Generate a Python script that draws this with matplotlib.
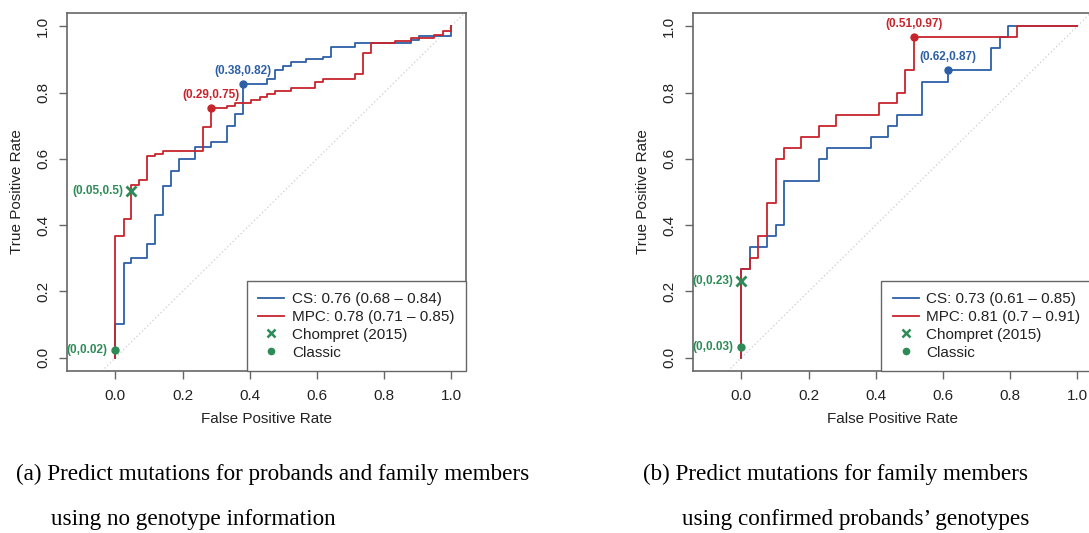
import numpy as np
import matplotlib
matplotlib.use('Agg')
from matplotlib import pyplot as plt
from matplotlib.lines import Line2D

plt.rcParams['font.family'] = ['Liberation Sans', 'DejaVu Sans']

# (a) probands + family members, no genotype info
a_cs_fpr = [0, 0, 0.025, 0.048, 0.094, 0.119, 0.142, 0.166, 0.19, 0.238, 0.284, 0.332, 0.356,
            0.381, 0.452, 0.476, 0.498, 0.522, 0.569, 0.619, 0.641, 0.713, 0.88, 0.904, 1.0]
a_cs_tpr = [0, 0.103, 0.286, 0.30, 0.344, 0.432, 0.519, 0.562, 0.60, 0.636, 0.65, 0.70, 0.736,
            0.825, 0.84, 0.869, 0.879, 0.891, 0.90, 0.907, 0.936, 0.95, 0.958, 0.972, 1.0]
a_mpc_fpr = [0, 0, 0.025, 0.048, 0.069, 0.094, 0.119, 0.142, 0.26, 0.284, 0.332, 0.356, 0.405,
             0.43, 0.452, 0.475, 0.522, 0.594, 0.619, 0.713, 0.738, 0.761, 0.832, 0.88, 0.95,
             0.975, 1.0]
a_mpc_tpr = [0, 0.366, 0.418, 0.52, 0.535, 0.608, 0.614, 0.623, 0.695, 0.754, 0.76, 0.767, 0.777,
             0.786, 0.796, 0.805, 0.815, 0.832, 0.84, 0.855, 0.92, 0.95, 0.955, 0.965, 0.975,
             0.985, 1.0]
a_cs_best = (0.381, 0.825, '(0.38,0.82)')
a_mpc_best = (0.284, 0.754, '(0.29,0.75)')
a_chompret = (0.048, 0.503, '(0.05,0.5)')
a_classic = (0.0, 0.022, '(0,0.02)')
a_legend = ['CS: 0.76 (0.68 \u2013 0.84)', 'MPC: 0.78 (0.71 \u2013 0.85)']

# (b) family members, confirmed probands' genotypes
b_cs_fpr = [0, 0, 0.026, 0.077, 0.103, 0.128, 0.231, 0.256, 0.385, 0.436, 0.462, 0.538, 0.615,
            0.744, 0.769, 0.795, 1.0]
b_cs_tpr = [0, 0.267, 0.333, 0.367, 0.40, 0.533, 0.60, 0.633, 0.667, 0.70, 0.733, 0.833, 0.867,
            0.933, 0.967, 1.0, 1.0]
b_mpc_fpr = [0, 0, 0.026, 0.051, 0.077, 0.103, 0.128, 0.179, 0.231, 0.282, 0.41, 0.462, 0.487,
             0.513, 0.821, 1.0]
b_mpc_tpr = [0, 0.267, 0.30, 0.367, 0.467, 0.60, 0.633, 0.667, 0.70, 0.733, 0.767, 0.80, 0.867,
             0.967, 1.0, 1.0]
b_cs_best = (0.615, 0.867, '(0.62,0.87)')
b_mpc_best = (0.513, 0.967, '(0.51,0.97)')
b_chompret = (0.0, 0.233, '(0,0.23)')
b_classic = (0.0, 0.033, '(0,0.03)')
b_legend = ['CS: 0.73 (0.61 \u2013 0.85)', 'MPC: 0.81 (0.7 \u2013 0.91)']

captions = [('(a) Predict mutations for probands and family members',
             'using no genotype information'),
            ('(b) Predict mutations for family members',
             'using confirmed probands\u2019 genotypes')]

BLUE = '#2d5fa6'
RED = '#c8242c'
GREEN = '#2e8b57'
FRAME = '#666666'


def draw_panel(ax, cs_fpr, cs_tpr, mpc_fpr, mpc_tpr, cs_best, mpc_best, chompret, classic, legtxt):
    ax.axline((0, 0), (1, 1), color='#cccccc', lw=0.9, dashes=(1, 2), zorder=1)
    ax.plot(cs_fpr, cs_tpr, drawstyle='steps-post', color=BLUE, lw=1.3, zorder=2)
    ax.plot(mpc_fpr, mpc_tpr, drawstyle='steps-post', color=RED, lw=1.3, zorder=3)

    # best cut-offs, labelled above
    for (x, y, lab), col in [(cs_best, BLUE), (mpc_best, RED)]:
        ax.plot(x, y, 'o', color=col, ms=5, zorder=4)
        ax.annotate(lab, (x, y), xytext=(0, 9.5), textcoords='offset points',
                    ha='center', va='center', fontsize=8.5, fontweight='bold', color=col)
    # rule based classifiers, labelled to the left
    ax.plot(chompret[0], chompret[1], 'x', color=GREEN, ms=7, mew=2, zorder=5)
    ax.plot(classic[0], classic[1], 'o', color=GREEN, ms=5, zorder=5)
    for x, y, lab in [chompret, classic]:
        ax.annotate(lab, (x, y), xytext=(-6, 0), textcoords='offset points',
                    ha='right', va='center', fontsize=8.5, fontweight='bold', color=GREEN)

    ax.set_xlim(-0.144, 1.044)
    ax.set_ylim(-0.04, 1.04)
    ticks = [0.0, 0.2, 0.4, 0.6, 0.8, 1.0]
    ax.set_xticks(ticks)
    ax.set_yticks(ticks)
    ax.set_xticklabels(['%.1f' % t for t in ticks])
    ax.set_yticklabels(['%.1f' % t for t in ticks])
    ax.tick_params(direction='out', length=6, width=1, color=FRAME, labelsize=11,
                   labelcolor='#222222')
    ax.tick_params(axis='x', pad=7)
    ax.tick_params(axis='y', pad=6, labelrotation=90)
    for lab in ax.get_yticklabels():
        lab.set_va('center')
    for sp in ax.spines.values():
        sp.set_color(FRAME)
        sp.set_linewidth(1.2)

    ax.set_xlabel('False Positive Rate', fontsize=11, color='#222222', va='center')
    ax.set_ylabel('True Positive Rate', fontsize=11, color='#222222', va='center')
    ax.xaxis.set_label_coords(0.5, -0.134)
    ax.yaxis.set_label_coords(-0.125, 0.5)

    handles = [Line2D([], [], color=BLUE, lw=1.3),
               Line2D([], [], color=RED, lw=1.3),
               Line2D([], [], color=GREEN, marker='x', ls='none', ms=6, mew=1.8),
               Line2D([], [], color=GREEN, marker='o', ls='none', ms=4.5)]
    labels = legtxt + ['Chompret (2015)', 'Classic']
    leg = ax.legend(handles, labels, loc='lower right', borderaxespad=0, fontsize=11,
                    fancybox=False, framealpha=1, edgecolor=FRAME, handlelength=1.7,
                    handletextpad=0.5, labelspacing=0.25, borderpad=0.75)
    leg.get_frame().set_linewidth(1.0)
    for t in leg.get_texts():
        t.set_color('#222222')


fig = plt.figure(figsize=(10.89, 5.33), dpi=100)
axL = fig.add_axes([67 / 1089, 162 / 533, 399 / 1089, 358 / 533])
axR = fig.add_axes([693 / 1089, 162 / 533, 399 / 1089, 358 / 533])

draw_panel(axL, a_cs_fpr, a_cs_tpr, a_mpc_fpr, a_mpc_tpr, a_cs_best, a_mpc_best,
           a_chompret, a_classic, a_legend)
draw_panel(axR, b_cs_fpr, b_cs_tpr, b_mpc_fpr, b_mpc_tpr, b_cs_best, b_mpc_best,
           b_chompret, b_classic, b_legend)

# captions below the panels
cap_font = dict(family='Liberation Serif', fontsize=16.7, color='black', va='center', ha='left')
fig.text(16 / 1089, 1 - 474 / 533, captions[0][0], **cap_font)
fig.text(51 / 1089, 1 - 520 / 533, captions[0][1], **cap_font)
fig.text(643 / 1089, 1 - 474 / 533, captions[1][0], **cap_font)
fig.text(682 / 1089, 1 - 520 / 533, captions[1][1], **cap_font)

fig.savefig('out.png', dpi=100)
